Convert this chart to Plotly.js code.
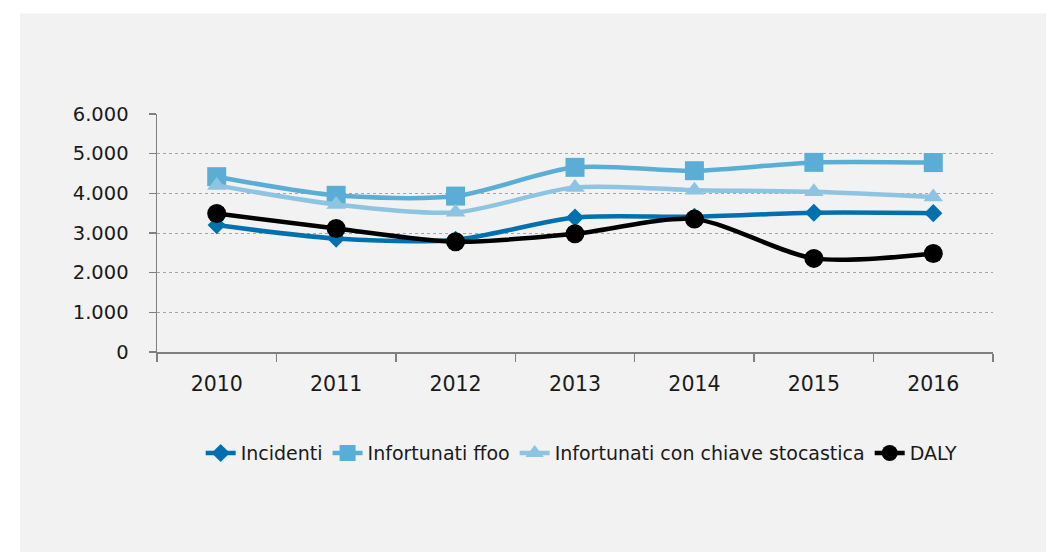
<!DOCTYPE html>
<html>
<head>
<meta charset="utf-8">
<script src="https://cdn.plot.ly/plotly-3.0.1.min.js"></script>
<style>
html,body{margin:0;padding:0;background:#fff;}
#chart{width:1048px;height:552px;}
</style>
</head>
<body>
<div id="chart"></div>
<script>
var years = ["2010","2011","2012","2013","2014","2015","2016"];
var incidenti = [3200, 2860, 2830, 3390, 3410, 3510, 3500];
var infortunatiFfoo = [4420, 3950, 3930, 4655, 4570, 4780, 4775];
var infortunatiStocastica = [4200, 3720, 3520, 4150, 4080, 4040, 3910];
var daly = [3490, 3115, 2780, 2980, 3350, 2360, 2485];
var seriesNames = ["Incidenti", "Infortunati ffoo", "Infortunati con chiave stocastica", "DALY"];
var yTicks = [0, 1000, 2000, 3000, 4000, 5000, 6000];

var colors = ["#0071AE", "#5AAED6", "#8CC4E2", "#000000"];
var symbols = ["diamond", "square", "triangle-up", "circle"];
var sizes = [14, 19, 17, 19];
var allData = [incidenti, infortunatiFfoo, infortunatiStocastica, daly];

var traces = allData.map(function(vals, i){
  return {
    type: "scatter",
    mode: "lines+markers",
    name: seriesNames[i],
    x: years,
    y: vals,
    line: {color: colors[i], width: 4.5, shape: "spline", smoothing: 0.8},
    marker: {color: colors[i], symbol: symbols[i], size: sizes[i], line: {width: 0}}
  };
});

var layout = {
  width: 1048,
  height: 552,
  margin: {l: 157, r: 55, t: 114, b: 200},
  paper_bgcolor: "#ffffff",
  plot_bgcolor: "rgba(0,0,0,0)",
  separators: ",.",
  font: {family: "DejaVu Sans", color: "#1a1a1a", size: 18},
  showlegend: true,
  legend: {
    orientation: "h",
    x: 0.508, xanchor: "center",
    y: -0.425, yanchor: "middle",
    font: {family: "DejaVu Sans", size: 19, color: "#1a1a1a"},
    bgcolor: "rgba(0,0,0,0)",
    traceorder: "normal"
  },
  xaxis: {
    type: "category",
    range: [-0.5, 6.5],
    tickson: "boundaries",
    ticks: "outside",
    ticklen: 8,
    tickwidth: 1.5,
    tickcolor: "#7f7f7f",
    showline: true,
    linecolor: "#7f7f7f",
    linewidth: 1.5,
    showgrid: false,
    zeroline: false,
    ticklabelstandoff: 13,
    tickfont: {family: "DejaVu Sans", size: 20.5, color: "#1a1a1a"},
    fixedrange: true
  },
  yaxis: {
    range: [0, 6000],
    tickvals: yTicks,
    tickformat: ",",
    ticks: "outside",
    ticklen: 7,
    tickwidth: 1.5,
    tickcolor: "#7f7f7f",
    showline: true,
    linecolor: "#7f7f7f",
    linewidth: 1.5,
    showgrid: true,
    gridcolor: "#a5a5a5",
    gridwidth: 1,
    griddash: "dot",
    zeroline: false,
    ticklabelstandoff: 16,
    tickfont: {family: "DejaVu Sans", size: 19.5, color: "#1a1a1a"},
    fixedrange: true
  },
  shapes: [{
    type: "rect", xref: "paper", yref: "paper", layer: "below",
    x0: -0.1639, x1: 1.0634, y0: -1.2, y1: 1.422,
    fillcolor: "#f2f2f2", line: {width: 0}
  }]
};

Plotly.newPlot("chart", traces, layout, {displayModeBar: false, staticPlot: true});
</script>
</body>
</html>
